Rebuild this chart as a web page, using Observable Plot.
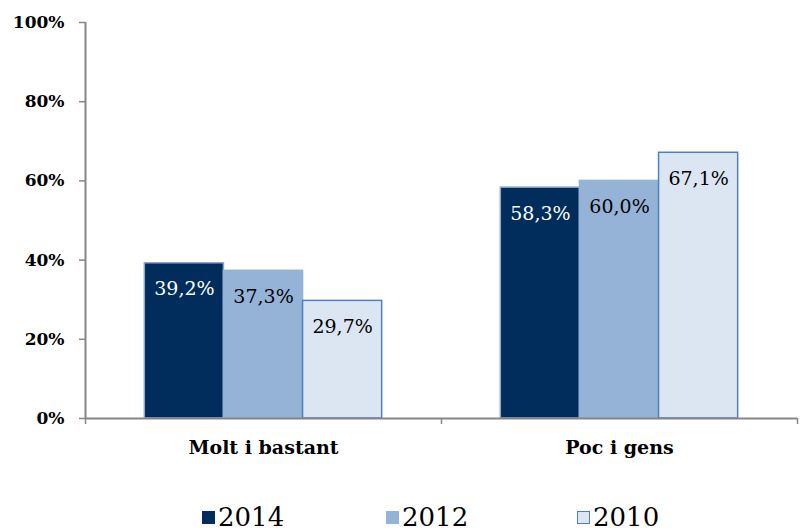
<!DOCTYPE html>
<html>
<head>
<meta charset="utf-8">
<script src="https://cdn.jsdelivr.net/npm/d3@7"></script>
<script src="https://cdn.jsdelivr.net/npm/@observablehq/plot@0.6"></script>
<style>
  html, body { margin: 0; padding: 0; background: #fff; }
  #chart { width: 803px; font-family: "DejaVu Serif", serif; }
  .legend { display: flex; margin-left: 202px; height: 61px; align-items: flex-end; box-sizing: border-box; padding-bottom: 1px; font-family: "DejaVu Serif", serif; font-size: 26px; line-height: 26px; color: #000; }
  .legend .item { display: flex; align-items: center; }
  .legend .sw { width: 13px; height: 13px; margin-right: 3px; box-sizing: border-box; }
</style>
</head>
<body>
<div id="chart"></div>
<script>
const categories = ["Molt i bastant", "Poc i gens"];
const years = ["2014", "2012", "2010"];
const values2014 = [39.2, 58.3];
const values2012 = [37.3, 60.0];
const values2010 = [29.7, 67.1];
const yTicks = [0, 20, 40, 60, 80, 100];

const fills = {"2014": "#002D5B", "2012": "#95B3D7", "2010": "#DCE6F2"};
const strokes = {"2014": "#8CA6C8", "2012": "#95B3D7", "2010": "#4F81BD"};
const labelColors = {"2014": "#ffffff", "2012": "#000000", "2010": "#000000"};

const series = {"2014": values2014, "2012": values2012, "2010": values2010};
const data = [];
categories.forEach((cat, ci) => {
  years.forEach((yr, yi) => {
    const x1 = ci + 1/6 + yi * 2/9;
    data.push({cat, year: yr, value: series[yr][ci], x1, x2: x1 + 2/9});
  });
});

const fmt = v => v.toFixed(1).replace(".", ",") + "%";

const chart = Plot.plot({
  width: 803,
  height: 470,
  marginLeft: 85,
  marginRight: 6,
  marginTop: 22,
  marginBottom: 52,
  style: {fontFamily: "DejaVu Serif, serif", background: "#fff", fontSize: "17px"},
  x: {domain: [0, 2], axis: null},
  y: {domain: [0, 100], axis: null},
  color: {type: "identity"},
  marks: [
    Plot.rect(data, {
      x1: "x1", x2: "x2", y1: 0, y2: "value",
      fill: d => fills[d.year],
      stroke: d => strokes[d.year],
      strokeWidth: 1.5
    }),
    Plot.text(data, {
      x: d => (d.x1 + d.x2) / 2,
      y: "value",
      text: d => fmt(d.value),
      dy: 26,
      fill: d => labelColors[d.year],
      fontSize: 19
    }),
    Plot.tickY(yTicks, {
      y: d => d,
      x1: 0,
      x2: 0,
      dx: 0,
      stroke: "none"
    }),
    Plot.axisY({
      ticks: yTicks,
      tickFormat: () => "",
      tickSize: 6,
      label: null,
      stroke: "#868686",
      strokeWidth: 1.5
    }),
    Plot.text(yTicks, {
      x: 0,
      y: d => d,
      text: d => d + "%",
      textAnchor: "end",
      dx: -21,
      fontSize: 17,
      fontWeight: "bold",
      fill: "#000"
    }),
    Plot.axisX({
      ticks: [0, 1, 2],
      tickFormat: () => "",
      tickSize: 6,
      label: null,
      stroke: "#868686",
      strokeWidth: 1.5
    }),
    Plot.ruleX([0], {stroke: "#868686", strokeWidth: 2}),
    Plot.ruleY([0], {stroke: "#868686", strokeWidth: 2}),
    Plot.text(categories, {
      x: (d, i) => i + 0.5,
      y: 0,
      text: d => d,
      dy: 29,
      fontSize: 19,
      fontWeight: "bold",
      fill: "#000"
    })
  ]
});
document.getElementById("chart").appendChild(chart);

const legend = document.createElement("div");
legend.className = "legend";
const itemWidths = [184, 191, 120];
years.forEach((yr, i) => {
  const item = document.createElement("div");
  item.className = "item";
  item.style.width = itemWidths[i] + "px";
  const sw = document.createElement("span");
  sw.className = "sw";
  sw.style.background = fills[yr];
  if (yr === "2010") sw.style.border = "1.5px solid " + strokes[yr];
  const t = document.createElement("span");
  t.textContent = yr;
  item.appendChild(sw);
  item.appendChild(t);
  legend.appendChild(item);
});
document.getElementById("chart").appendChild(legend);
</script>
</body>
</html>
